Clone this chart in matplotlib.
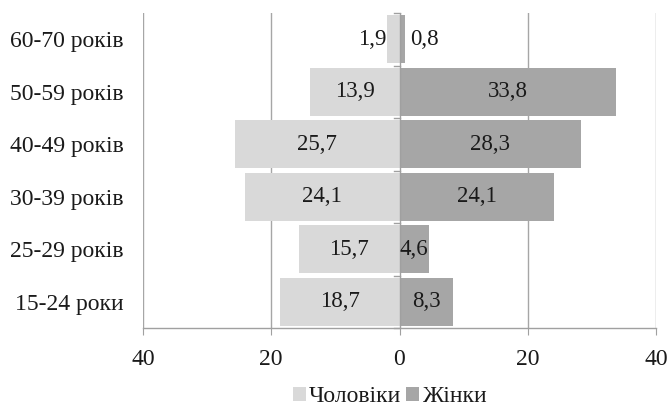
import matplotlib
matplotlib.use("Agg")
import matplotlib.pyplot as plt
import numpy as np

categories = ["15-24 роки", "25-29 років", "30-39 років", "40-49 років", "50-59 років", "60-70 років"]
men = [18.7, 15.7, 24.1, 25.7, 13.9, 1.9]
women = [8.3, 4.6, 24.1, 28.3, 33.8, 0.8]
series_names = ["Чоловіки", "Жінки"]
xticks = [-40, -20, 0, 20, 40]
xticklabels = ["40", "20", "0", "20", "40"]

plt.rcParams['font.family'] = ['Liberation Serif', 'DejaVu Serif']
FS = 17
FSV = 16.5

fig = plt.figure(figsize=(6.7, 4.09), dpi=100)
ax = fig.add_axes([143/670, 1-328/409, (656-143)/670, (328-13)/409])

y = np.arange(len(categories))
h = 0.91
c_men = "#d9d9d9"
c_women = "#a6a6a6"
bm = ax.barh(y, [-v for v in men], height=h, color=c_men, label=series_names[0], zorder=2)
bw = ax.barh(y, women, height=h, color=c_women, label=series_names[1], zorder=2)

def fmt(v):
    return f"{v:.1f}".replace(".", ",")

tc = "#1a1a1a"
for yi, v in zip(y, men):
    if v < 3:
        ax.text(-v - 0.15, yi, fmt(v), ha="right", va="center", fontsize=FSV, color=tc, zorder=3)
    else:
        ax.text(-v / 2, yi, fmt(v), ha="center", va="center", fontsize=FSV, color=tc, zorder=3)
for yi, v in zip(y, women):
    if v < 3:
        ax.text(v + 0.8, yi, fmt(v), ha="left", va="center", fontsize=FSV, color=tc, zorder=3)
    else:
        ax.text(v / 2, yi, fmt(v), ha="center", va="center", fontsize=FSV, color=tc, zorder=3)

ax.set_xlim(-40, 40)
ax.set_ylim(-0.5, len(categories) - 0.5)
ax.set_xticks(xticks)
ax.set_xticklabels(xticklabels, fontsize=FS, color=tc)
ax.set_yticks(y)
ax.set_yticklabels(categories, fontsize=FS, color=tc)
ax.tick_params(axis="y", length=0, pad=14)
ax.tick_params(axis="x", length=5, color="#a0a0a0", pad=10, direction="out")

for x in xticks:
    if x != 0:
        ax.axvline(x, color="#a6a6a6", lw=1, zorder=1)
for s in ["top", "right", "left"]:
    ax.spines[s].set_visible(False)
ax.spines["bottom"].set_color("#a0a0a0")
ax.spines["bottom"].set_linewidth(1)

# category axis at 0 with small ticks between categories
ax.axvline(0, color="#a0a0a0", lw=1, zorder=2.5)
for b in np.arange(-0.5, len(categories), 1.0):
    ax.plot([-0.8, 0], [b, b], color="#a0a0a0", lw=1, zorder=2.5, clip_on=False)

fig.legend(handles=[bm, bw], labels=series_names, loc="center", bbox_to_anchor=(0.582, 1 - 397/409),
           ncol=2, frameon=False, fontsize=FS, handlelength=0.55, handleheight=0.55,
           handletextpad=0.15, columnspacing=0.2, borderpad=0, labelcolor=tc)

fig.savefig("out.png", dpi=100)
